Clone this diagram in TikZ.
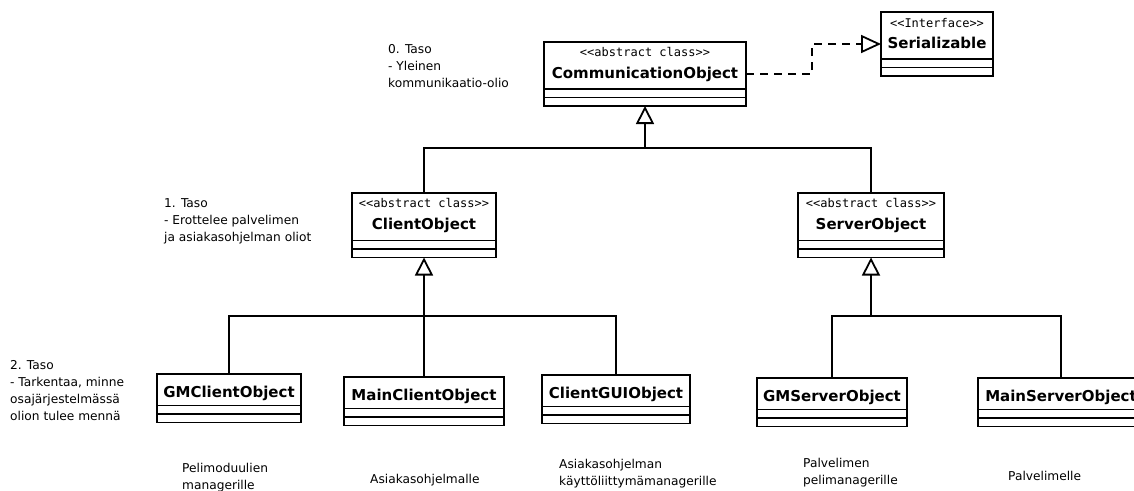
\documentclass[tikz,border=0pt]{standalone}
\usepackage{fontspec}
\setmainfont{DejaVu Sans}
\newfontfamily\stereofont{DejaVu Sans Mono}
\usetikzlibrary{arrows.meta,fit}

% UML class: head compartment, two empty compartments and an outline around all three
% #1 id, #2 x, #3 y (top left), #4 width, #5 head height
\newcommand\umlclass[5]{%
  \node[box, minimum width=#4pt, minimum height=#5pt] (#1) at (#2,#3) {};
  \node[box, minimum width=#4pt, minimum height=8.5pt] (#1-a) at (#1.south west) {};
  \node[box, minimum width=#4pt, minimum height=8.5pt] (#1-o) at (#1-a.south west) {};
  \node[fit=(#1)(#1-o), inner sep=0pt, outer sep=0pt] (#1-all) {};
}

\begin{document}
\begin{tikzpicture}[x=1pt,y=-1pt,
  box/.style={draw, line width=1.8pt, inner sep=0pt, outer sep=0pt, anchor=north west, fill=white},
  stereo/.style={font={\stereofont\fontsize{12pt}{14pt}\selectfont}, inner sep=0pt, anchor=base},
  cname/.style={font={\bfseries\fontsize{15pt}{18pt}\selectfont}, inner sep=0pt, anchor=base},
  note/.style={font={\fontsize{12.2pt}{17pt}\selectfont}, inner sep=0pt, anchor=base west, align=left},
  link/.style={line width=1.8pt},
  inherit/.style={link, -{Triangle[open, length=18pt, width=18pt]}},
  realize/.style={link, dash pattern=on 8pt off 6pt, -{Triangle[open, length=20pt, width=18pt]}}
]
\useasboundingbox (0,0) rectangle (1134,490);
\clip (0,0) rectangle (1134,490);

% level 0
\umlclass{co}{544}{42}{202}{47}
\node[stereo] (co-s) at ([yshift=-14.5pt]co.north) {<\kern0pt<abstract class>\kern0pt>};
\node[cname]  (co-n) at ([yshift=-36pt]co.north) {CommunicationObject};

\umlclass{ser}{881}{12}{112}{47}
\node[stereo] (ser-s) at ([yshift=-15pt]ser.north) {<\kern0pt<Interface>\kern0pt>};
\node[cname]  (ser-n) at ([yshift=-36pt]ser.north) {Serializable};

% level 1
\umlclass{cl}{352}{193}{144}{47.5}
\node[stereo] (cl-s) at ([yshift=-14pt]cl.north) {<\kern0pt<abstract class>\kern0pt>};
\node[cname]  (cl-n) at ([yshift=-36pt]cl.north) {ClientObject};

\umlclass{sv}{798}{193}{146}{47.5}
\node[stereo] (sv-s) at ([yshift=-14pt]sv.north) {<\kern0pt<abstract class>\kern0pt>};
\node[cname]  (sv-n) at ([yshift=-36pt]sv.north) {ServerObject};

% level 2
\umlclass{gmc}{157}{374}{144}{31.5}
\node[cname] (gmc-n) at ([yshift=-23pt]gmc.north) {GMClientObject};
\umlclass{mco}{344}{377}{160}{31.5}
\node[cname] (mco-n) at ([yshift=-23pt]mco.north) {MainClientObject};
\umlclass{cgui}{542}{375}{148}{31.5}
\node[cname] (cgui-n) at ([yshift=-23pt]cgui.north) {ClientGUIObject};
\umlclass{gms}{757}{378}{150}{31.5}
\node[cname] (gms-n) at ([yshift=-23pt]gms.north) {GMServerObject};
\umlclass{mso}{978}{378}{166}{31.5}
\node[cname] (mso-n) at ([yshift=-23pt]mso.north) {MainServerObject};

% generalisations
\coordinate (j0) at (645,148);
\draw[link] (cl.north) |- (j0);
\draw[link] (sv.north) |- (j0);
\draw[inherit] (j0) -- (co-o.south);

\coordinate (j1) at (424,316);
\draw[link] (gmc.north) |- (j1);
\draw[link] (cgui.north) |- (j1);
\draw[link] (mco.north) -- (j1);
\draw[inherit] (j1) -- (cl-o.south);

\coordinate (j2) at (871,316);
\draw[link] (gms.north) |- (j2);
\draw[link] (mso.north) |- (j2);
\draw[inherit] (j2) -- (sv-o.south);

% realisation of the interface
\coordinate (bend) at (812,60);
\draw[realize] (co-all.east) -| (bend) |- (ser-all.west);

% level notes (anchored at the baseline of the last line)
\node[note] (lvl0) at (388,87) {0. Taso\\- Yleinen\\kommunikaatio-olio};
\node[note] (lvl1) at (164,241) {1. Taso\\- Erottelee palvelimen\\ja asiakasohjelman oliot};
\node[note] (lvl2) at (10,420) {2. Taso\\- Tarkentaa, minne\\osajärjestelmässä\\olion tulee mennä};

% usage notes
\node[note] (u1) at (182,489) {Pelimoduulien\\managerille};
\node[note] (u2) at (370,483) {Asiakasohjelmalle};
\node[note] (u3) at (559,485) {Asiakasohjelman\\käyttöliittymämanagerille};
\node[note] (u4) at (803,484) {Palvelimen\\pelimanagerille};
\node[note] (u5) at (1008,480) {Palvelimelle};
\end{tikzpicture}
\end{document}
